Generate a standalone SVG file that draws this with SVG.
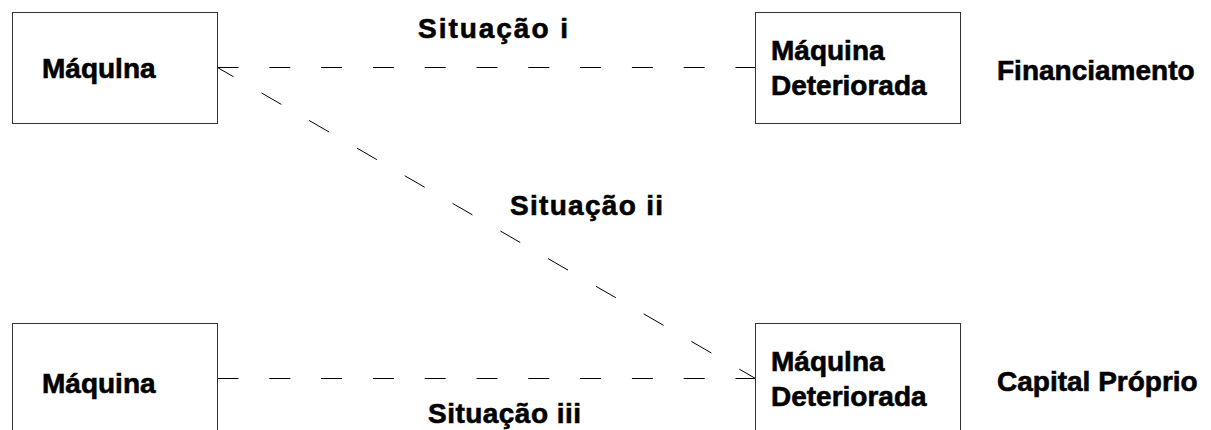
<svg xmlns="http://www.w3.org/2000/svg" width="1211" height="430" viewBox="0 0 1211 430">
<style>
  .box { fill: #fff; stroke: #333; stroke-width: 1; }
  .t { font-family: "Liberation Sans", Arial, sans-serif; font-weight: bold; font-size: 28px; fill: #000; stroke: #000; stroke-width: 0.6; }
  .h { stroke: #000; stroke-width: 1; fill: none; stroke-dasharray: 21 30.8; }
  .d { stroke: #000; stroke-width: 1; fill: none; stroke-dasharray: 23 32.2; stroke-dashoffset: 4.5; }
</style>
<rect width="1211" height="430" fill="#fff"/>
<g id="connectors">
  <line class="h" x1="217.5" y1="67.5" x2="755.5" y2="67.5"/>
  <line class="d" x1="217.5" y1="67.5" x2="755.5" y2="378.5"/>
  <line class="h" x1="217.5" y1="378.5" x2="755.5" y2="378.5"/>
</g>
<g id="maquina-top">
  <rect class="box" x="12.5" y="12.5" width="205" height="111"/>
  <text class="t" x="42" y="78">Máqulna</text>
</g>
<g id="deteriorada-top">
  <rect class="box" x="755.5" y="12.5" width="205" height="111"/>
  <text class="t" x="771" y="60">Máquina</text>
  <text class="t" x="771" y="95">Deteriorada</text>
</g>
<g id="financiamento">
  <text class="t" x="997" y="80">Financiamento</text>
</g>
<g id="maquina-bottom">
  <rect class="box" x="12.5" y="323.5" width="205" height="120"/>
  <text class="t" x="42" y="393">Máquina</text>
</g>
<g id="deteriorada-bottom">
  <rect class="box" x="755.5" y="323.5" width="205" height="120"/>
  <text class="t" x="771" y="371">Máqulna</text>
  <text class="t" x="771" y="406">Deteriorada</text>
</g>
<g id="capital">
  <text class="t" x="997" y="391">Capital Próprio</text>
</g>
<g id="labels">
  <text class="t" x="418" y="38" textLength="150" lengthAdjust="spacing">Situação i</text>
  <text class="t" x="510" y="215" textLength="153" lengthAdjust="spacing">Situação ii</text>
  <text class="t" x="428" y="423" textLength="153" lengthAdjust="spacing">Situação iii</text>
</g>
</svg>
